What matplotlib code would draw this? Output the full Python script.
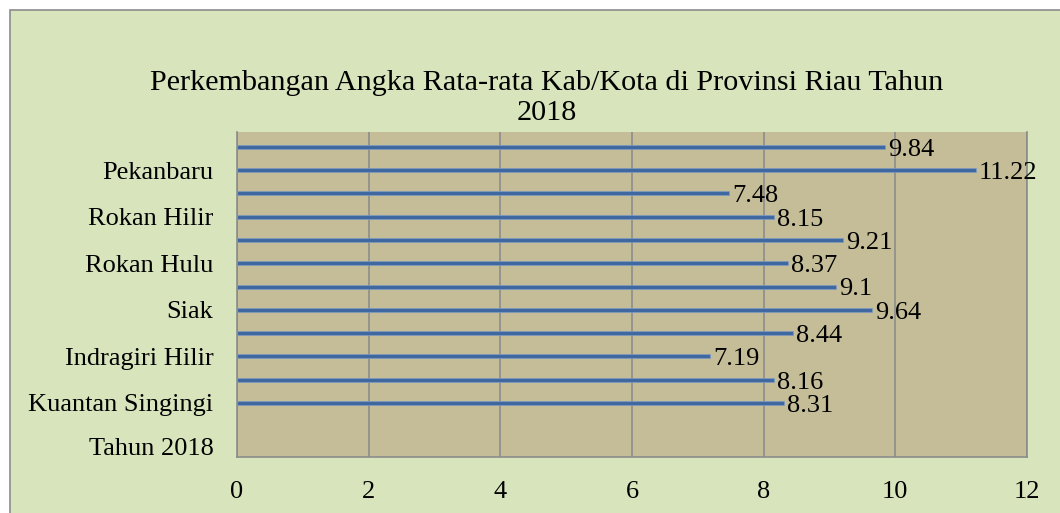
import matplotlib
matplotlib.use('Agg')
import matplotlib.pyplot as plt
from matplotlib.patches import Rectangle
import numpy as np

# kab/kota from bottom to top
regions = ['Kuantan Singingi', 'Indragiri Hulu', 'Indragiri Hilir', 'Pelalawan',
           'Siak', 'Kampar', 'Rokan Hulu', 'Bengkalis', 'Rokan Hilir',
           'Kepulauan Meranti', 'Pekanbaru', 'Dumai']
values = [8.31, 8.16, 7.19, 8.44, 9.64, 9.1, 8.37, 9.21, 8.15, 7.48, 11.22, 9.84]
extra_label = 'Tahun 2018'
xticks = [0, 2, 4, 6, 8, 10, 12]
title = 'Perkembangan Angka Rata-rata Kab/Kota di Provinsi Riau Tahun\n2018'

plt.rcParams['font.family'] = ['Liberation Serif', 'DejaVu Serif']

fig = plt.figure(figsize=(10.6, 5.13), dpi=100, facecolor='white')
# chart area with grey border (only left/top visible)
fig.patches.append(Rectangle((10/1060, -0.1), 1.2, 1 - 10/513 + 0.1,
                             transform=fig.transFigure, facecolor='#d8e4bc',
                             edgecolor='#8c8c8c', linewidth=1.2, zorder=-5))

ax = fig.add_axes([237/1060, 1 - 457/513, 790/1060, 325/513])
ax.set_facecolor('#c4bd97')

y = np.arange(len(values))
ax.barh(y, values, height=0.17, color='#3f68a0', edgecolor='#7f9cc4',
        linewidth=0.5, zorder=3)
for yi, v in zip(y, values):
    ax.text(v + 0.05, yi - 0.12, f'{v:g}', fontsize=19, va='center',
            ha='left', zorder=4)

ax.set_xlim(0, 12)
ax.set_ylim(-2.32, 11.64)
ax.set_xticks(xticks)
ax.set_xticklabels([str(t) for t in xticks], fontsize=19)

tick_pos = [-1.85] + list(y[::2])
tick_lab = [extra_label] + regions[::2]
ax.set_yticks(tick_pos)
ax.set_yticklabels(tick_lab, fontsize=19)
ax.tick_params(length=0)
ax.tick_params(axis='y', pad=17)
ax.tick_params(axis='x', pad=17)

ax.grid(axis='x', color='#8c8c8c', linewidth=1.2, zorder=1)
ax.set_axisbelow(True)
for s in ['left', 'bottom', 'right']:
    ax.spines[s].set_color('#8c8c8c')
    ax.spines[s].set_linewidth(1.2)
ax.spines['top'].set_visible(False)

fig.text(547/1060, 1 - 98/513, title, ha='center', va='center', fontsize=21.7,
         linespacing=1.19)

fig.savefig('out.png', dpi=100)
